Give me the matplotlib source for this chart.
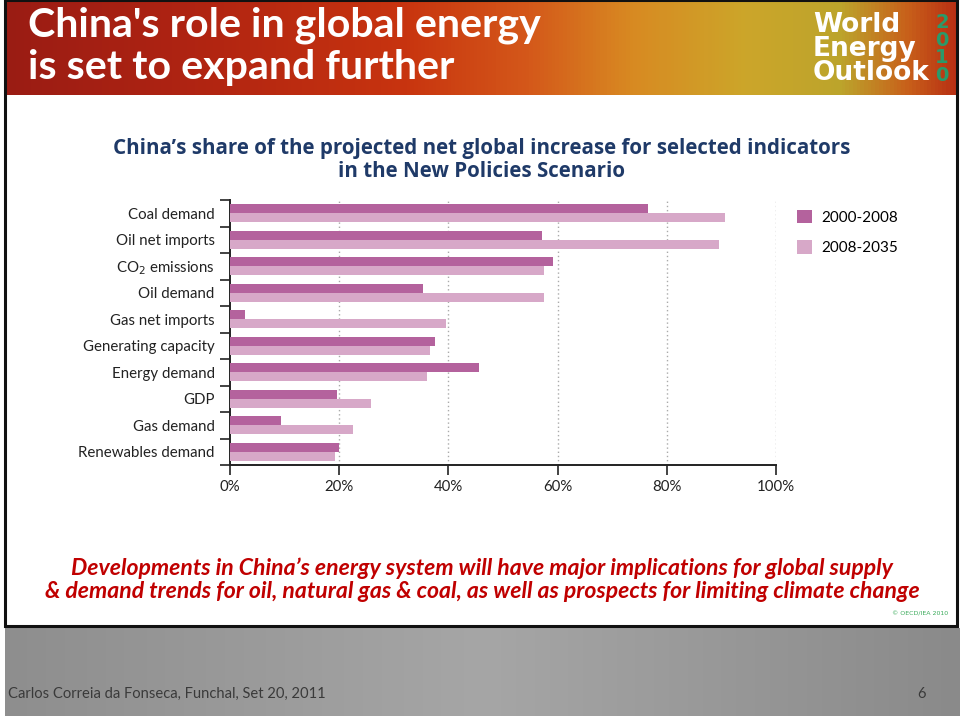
import numpy as np
import matplotlib
matplotlib.use('Agg')
import matplotlib.pyplot as plt
from matplotlib.colors import LinearSegmentedColormap
from matplotlib.patches import Rectangle

# Данные графика
categories = ['Coal demand', 'Oil net imports', 'CO$_2$ emissions', 'Oil demand',
              'Gas net imports', 'Generating capacity', 'Energy demand', 'GDP',
              'Gas demand', 'Renewables demand']
share_2000_2008 = [76.6, 57.1, 59.2, 35.3, 2.8, 37.6, 45.6, 19.6, 9.3, 19.9]
share_2008_2035 = [90.7, 89.6, 57.6, 57.5, 39.6, 36.6, 36.0, 25.8, 22.5, 19.3]
series_labels = ['2000-2008', '2008-2035']
x_ticks = [0, 20, 40, 60, 80, 100]
x_tick_labels = ['0%', '20%', '40%', '60%', '80%', '100%']

dark_color = '#b4629d'
light_color = '#d7a8c8'

fig = plt.figure(figsize=(9.6, 7.16), dpi=100)

# Фон слайда в пиксельных координатах
bg = fig.add_axes([0, 0, 1, 1])
bg.set_xlim(0, 960)
bg.set_ylim(716, 0)
bg.axis('off')

banner_cmap = LinearSegmentedColormap.from_list('banner', [
    (0.0, '#9a1c14'), (0.2, '#b02412'), (0.42, '#c8340f'), (0.55, '#d4581a'),
    (0.66, '#d88a22'), (0.78, '#cca62a'), (0.88, '#bca42c'), (0.95, '#c8601a'),
    (1.0, '#b83014')])
bg.imshow(np.linspace(0, 1, 256).reshape(1, -1), cmap=banner_cmap, aspect='auto',
          extent=(5, 957, 95, 0), zorder=0)

footer_cmap = LinearSegmentedColormap.from_list('footer', [
    (0.0, '#8e8e8e'), (0.5, '#a6a6a6'), (1.0, '#8a8a8a')])
bg.imshow(np.linspace(0, 1, 256).reshape(1, -1), cmap=footer_cmap, aspect='auto',
          extent=(5, 960, 716, 628), zorder=0)

bg.add_patch(Rectangle((5, 0), 952, 626, fill=False, edgecolor='#111111', lw=2.2, zorder=2))

bg.text(28, 25, "China's role in global energy", color='white', fontsize=29.6,
        fontweight='bold', family='Lato', va='center', ha='left')
bg.text(28, 67, "is set to expand further", color='white', fontsize=29.6,
        fontweight='bold', family='Lato', va='center', ha='left')

bg.text(813, 49, 'World\nEnergy\nOutlook', color='white', fontsize=19, fontweight='bold',
        family='DejaVu Sans', va='center', ha='left', linespacing=0.88)
bg.text(942, 49, '2\n0\n1\n0', color='#2a9a6a', fontsize=14, fontweight='bold',
        family='DejaVu Sans', va='center', ha='center', linespacing=0.92)

bg.text(482, 160, "China’s share of the projected net global increase for selected indicators\n"
        "in the New Policies Scenario", color='#1f3a68', fontsize=14.8, fontweight='bold',
        family='Open Sans', va='center', ha='center', linespacing=1.15)

bg.text(482, 580, "Developments in China’s energy system will have major implications for global supply\n"
        "& demand trends for oil, natural gas & coal, as well as prospects for limiting climate change",
        color='#c00000', fontsize=16.6, style='italic', fontweight='bold', family='Lato',
        va='center', ha='center', linespacing=1.12)
bg.text(948, 614, '© OECD/IEA 2010', color='#3aaa5a', fontsize=4.5, va='center', ha='right')

bg.text(8, 694, 'Carlos Correia da Fonseca, Funchal, Set 20, 2011', color='#3a3a3a',
        fontsize=10.6, family='Lato', va='center', ha='left')
bg.text(921, 694, '6', color='#3a3a3a', fontsize=10.6, family='Lato', va='center', ha='center')

# Основной график
ax = fig.add_axes([230 / 960, 1 - 465 / 716, 546 / 960, 265 / 716])
ax.patch.set_alpha(0)
y = np.arange(len(categories))
h = 0.34
ax.barh(y - h / 2, share_2000_2008, height=h, color=dark_color, label=series_labels[0], zorder=3)
ax.barh(y + h / 2, share_2008_2035, height=h, color=light_color, label=series_labels[1], zorder=3)

ax.set_xlim(0, 100)
ax.set_ylim(len(categories) - 0.5, -0.5)

ax.set_yticks(y)
ax.set_yticklabels(categories, fontsize=10.8, family='Lato', color='#222222')
ax.set_yticks(np.arange(-0.5, len(categories)), minor=True)
ax.tick_params(axis='y', which='major', length=0, pad=11)
ax.tick_params(axis='y', which='minor', length=7, width=1.2, color='#222222', direction='out')

ax.set_xticks(x_ticks)
ax.set_xticklabels(x_tick_labels, fontsize=10.8, family='Lato', color='#222222')
ax.tick_params(axis='x', length=7, width=1.2, color='#222222', direction='out', pad=4)

for v in x_ticks[1:]:
    ax.axvline(v, color='#aaaaaa', lw=1, ls=(0, (1, 2)), zorder=1)

for side in ['top', 'right']:
    ax.spines[side].set_visible(False)
ax.spines['left'].set_linewidth(1.4)
ax.spines['bottom'].set_linewidth(1.4)
ax.spines['left'].set_color('#222222')
ax.spines['bottom'].set_color('#222222')

ax.legend(loc='upper left', bbox_to_anchor=(783 / 960, 1 - 196 / 716),
          bbox_transform=fig.transFigure, frameon=False, handlelength=1.0,
          handleheight=1.0, handletextpad=0.6, labelspacing=1.0,
          prop={'family': 'Lato', 'size': 11})

fig.savefig('out.png', dpi=100)
